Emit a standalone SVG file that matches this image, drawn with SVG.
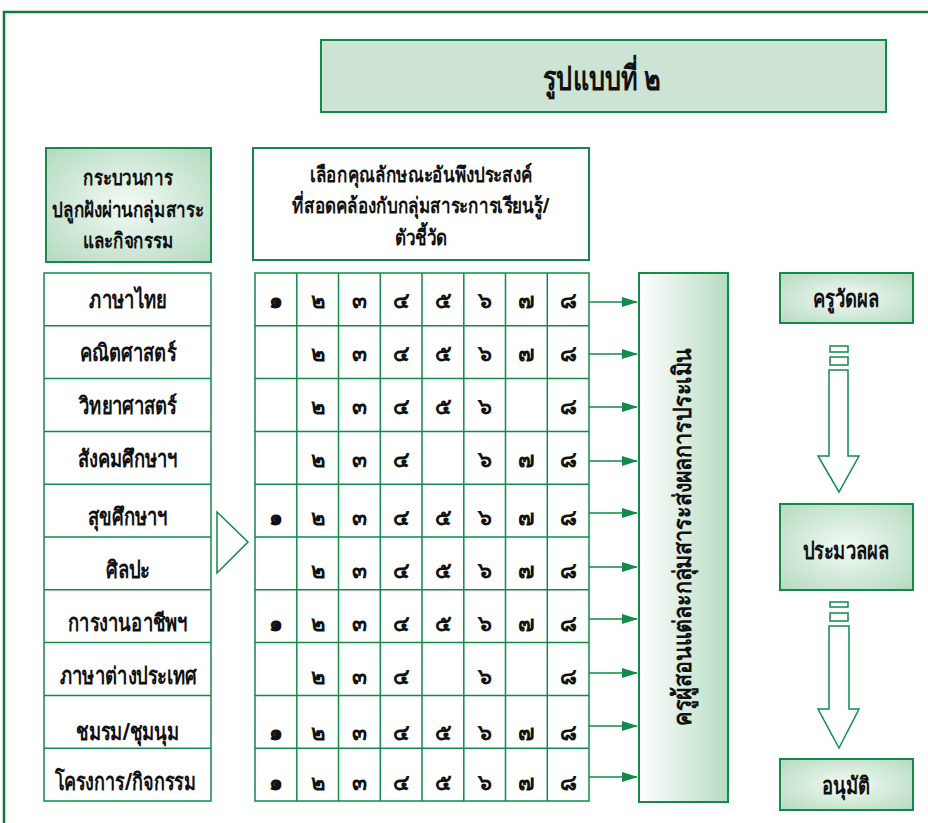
<svg xmlns="http://www.w3.org/2000/svg" width="928" height="823" viewBox="0 0 928 823">
<style>
  .t{font-family:"Noto Sans","DejaVu Sans",sans-serif;font-weight:bold;fill:#111;text-anchor:middle}
  .lab{font-size:19px}
  .num{font-size:22px}
  .hdr{font-size:17px}
  .box{stroke:#13894a;stroke-width:2}
  .cell{fill:#fff;stroke:#13894a;stroke-width:1.5}
  .conn{stroke:#13894a;stroke-width:1.5;fill:none}
  .hollow{fill:#fff;stroke:#13894a;stroke-width:1.5}
</style>
<defs>
  <radialGradient id="rg" cx="0.5" cy="0.5" r="0.7">
    <stop offset="0" stop-color="#f4faf5"/>
    <stop offset="1" stop-color="#b3dabf"/>
  </radialGradient>
  <linearGradient id="lg" x1="0" y1="0" x2="1" y2="0">
    <stop offset="0" stop-color="#ffffff"/>
    <stop offset="1" stop-color="#b7dbc2"/>
  </linearGradient>
  <marker id="ah" markerWidth="16" markerHeight="10" refX="15" refY="5" orient="auto" markerUnits="userSpaceOnUse">
    <path d="M0,0 L16,5 L0,10 Z" fill="#13894a"/>
  </marker>
</defs>
<rect width="928" height="823" fill="#fff"/>
<path d="M4,823 V12 H928" fill="none" stroke="#0e7a3c" stroke-width="2.5"/>

<g id="title">
  <rect x="321" y="40" width="565" height="72" fill="#cde3d3" class="box"/>
  <text class="t" style="font-size:26px" transform="translate(602,90) scale(0.97,1.3)">รูปแบบที่ ๒</text>
</g>

<g id="hdr-left">
  <rect x="46" y="148" width="165" height="114" fill="url(#rg)" class="box"/>
  <text class="t hdr" transform="translate(128,185) scale(1,1.25)">กระบวนการ</text>
  <text class="t hdr" transform="translate(128,217) scale(1,1.25)">ปลูกฝังผ่านกลุ่มสาระ</text>
  <text class="t hdr" transform="translate(128,248) scale(1,1.25)">และกิจกรรม</text>
</g>

<g id="hdr-mid">
  <rect x="253" y="148" width="336" height="112" fill="#fff" class="box"/>
  <text class="t hdr" transform="translate(421,182) scale(1,1.25)">เลือกคุณลักษณะอันพึงประสงค์</text>
  <text class="t hdr" transform="translate(421,213) scale(1,1.25)">ที่สอดคล้องกับกลุ่มสาระการเรียนรู้/</text>
  <text class="t hdr" transform="translate(421,245) scale(1,1.25)">ตัวชี้วัด</text>
</g>

<g id="subjects">
  <rect x="44" y="273" width="167" height="528" class="cell"/>
  <path d="M44,325.8H211M44,378.6H211M44,431.4H211M44,484.2H211M44,537H211M44,589.8H211M44,642.6H211M44,695.4H211M44,748.2H211" class="conn"/>
  <text class="t lab" transform="translate(128,308) scale(0.97,1.25)">ภาษาไทย</text>
  <text class="t lab" transform="translate(128,361) scale(0.97,1.25)">คณิตศาสตร์</text>
  <text class="t lab" transform="translate(128,414) scale(0.97,1.25)">วิทยาศาสตร์</text>
  <text class="t lab" transform="translate(128,467) scale(0.97,1.25)">สังคมศึกษาฯ</text>
  <text class="t lab" transform="translate(128,525) scale(0.97,1.25)">สุขศึกษาฯ</text>
  <text class="t lab" transform="translate(128,578) scale(0.97,1.25)">ศิลปะ</text>
  <text class="t lab" transform="translate(128,631) scale(0.97,1.25)">การงานอาชีพฯ</text>
  <text class="t lab" transform="translate(128,684) scale(0.97,1.25)">ภาษาต่างประเทศ</text>
  <text class="t lab" transform="translate(128,740) scale(0.97,1.25)">ชมรม/ชุมนุม</text>
  <text class="t lab" transform="translate(125,790) scale(0.95,1.25)">โครงการ/กิจกรรม</text>
</g>

<g id="triangle">
  <path d="M217,512 L217,573 L248,542 Z" class="hollow"/>
</g>

<g id="grid">
  <rect x="255" y="273" width="334" height="528" class="cell"/>
  <path d="M296.8,273V801M338.5,273V801M380.3,273V801M422,273V801M463.8,273V801M505.5,273V801M547.3,273V801" class="conn"/>
  <path d="M255,325.8H589M255,378.6H589M255,431.4H589M255,484.2H589M255,537H589M255,589.8H589M255,642.6H589M255,695.4H589M255,748.2H589" class="conn"/>
  <g class="t num">
    <text x="276" y="308">๑</text><text x="318" y="308">๒</text><text x="359" y="308">๓</text><text x="401" y="308">๔</text><text x="443" y="308">๕</text><text x="485" y="308">๖</text><text x="526" y="308">๗</text><text x="568" y="308">๘</text>
    <text x="318" y="361">๒</text><text x="359" y="361">๓</text><text x="401" y="361">๔</text><text x="443" y="361">๕</text><text x="485" y="361">๖</text><text x="526" y="361">๗</text><text x="568" y="361">๘</text>
    <text x="318" y="414">๒</text><text x="359" y="414">๓</text><text x="401" y="414">๔</text><text x="443" y="414">๕</text><text x="485" y="414">๖</text><text x="568" y="414">๘</text>
    <text x="318" y="467">๒</text><text x="359" y="467">๓</text><text x="401" y="467">๔</text><text x="485" y="467">๖</text><text x="526" y="467">๗</text><text x="568" y="467">๘</text>
    <text x="276" y="525">๑</text><text x="318" y="525">๒</text><text x="359" y="525">๓</text><text x="401" y="525">๔</text><text x="443" y="525">๕</text><text x="485" y="525">๖</text><text x="526" y="525">๗</text><text x="568" y="525">๘</text>
    <text x="318" y="578">๒</text><text x="359" y="578">๓</text><text x="401" y="578">๔</text><text x="443" y="578">๕</text><text x="485" y="578">๖</text><text x="526" y="578">๗</text><text x="568" y="578">๘</text>
    <text x="276" y="631">๑</text><text x="318" y="631">๒</text><text x="359" y="631">๓</text><text x="401" y="631">๔</text><text x="443" y="631">๕</text><text x="485" y="631">๖</text><text x="526" y="631">๗</text><text x="568" y="631">๘</text>
    <text x="318" y="684">๒</text><text x="359" y="684">๓</text><text x="401" y="684">๔</text><text x="485" y="684">๖</text><text x="568" y="684">๘</text>
    <text x="276" y="740">๑</text><text x="318" y="740">๒</text><text x="359" y="740">๓</text><text x="401" y="740">๔</text><text x="443" y="740">๕</text><text x="485" y="740">๖</text><text x="526" y="740">๗</text><text x="568" y="740">๘</text>
    <text x="276" y="790">๑</text><text x="318" y="790">๒</text><text x="359" y="790">๓</text><text x="401" y="790">๔</text><text x="443" y="790">๕</text><text x="485" y="790">๖</text><text x="526" y="790">๗</text><text x="568" y="790">๘</text>
  </g>
</g>

<g id="connectors">
  <path d="M589,302H637" class="conn" marker-end="url(#ah)"/>
  <path d="M589,354H637" class="conn" marker-end="url(#ah)"/>
  <path d="M589,407H637" class="conn" marker-end="url(#ah)"/>
  <path d="M589,461H637" class="conn" marker-end="url(#ah)"/>
  <path d="M589,513H637" class="conn" marker-end="url(#ah)"/>
  <path d="M589,567H637" class="conn" marker-end="url(#ah)"/>
  <path d="M589,619H637" class="conn" marker-end="url(#ah)"/>
  <path d="M589,673H637" class="conn" marker-end="url(#ah)"/>
  <path d="M589,726H637" class="conn" marker-end="url(#ah)"/>
  <path d="M589,777H637" class="conn" marker-end="url(#ah)"/>
</g>

<g id="teachers">
  <rect x="639" y="273" width="89" height="529" fill="url(#lg)" class="box"/>
  <text class="t" style="font-size:21px" transform="translate(691,537) rotate(-90) scale(1.02,1.2)">ครูผู้สอนแต่ละกลุ่มสาระส่งผลการประเมิน</text>
</g>

<g id="measure">
  <rect x="780" y="273" width="133" height="50" fill="url(#rg)" class="box"/>
  <text class="t lab" transform="translate(846,307) scale(0.97,1.25)">ครูวัดผล</text>
</g>

<g id="arrow1">
  <rect x="830" y="346" width="18" height="6" class="hollow"/>
  <rect x="830" y="357" width="18" height="8" class="hollow"/>
  <path d="M829,370 H848 V456 H859 L839,492 L818,456 H829 Z" class="hollow"/>
</g>

<g id="process">
  <rect x="780" y="504" width="133" height="86" fill="url(#rg)" class="box"/>
  <text class="t lab" transform="translate(846,559) scale(0.97,1.25)">ประมวลผล</text>
</g>

<g id="arrow2">
  <rect x="830" y="602" width="18" height="5" class="hollow"/>
  <rect x="830" y="613" width="18" height="8" class="hollow"/>
  <path d="M829,626 H849 V709 H859 L839,748 L818,709 H829 Z" class="hollow"/>
</g>

<g id="approve">
  <rect x="780" y="759" width="133" height="51" fill="url(#rg)" class="box"/>
  <text class="t lab" transform="translate(846,794) scale(0.97,1.25)">อนุมัติ</text>
</g>
</svg>
